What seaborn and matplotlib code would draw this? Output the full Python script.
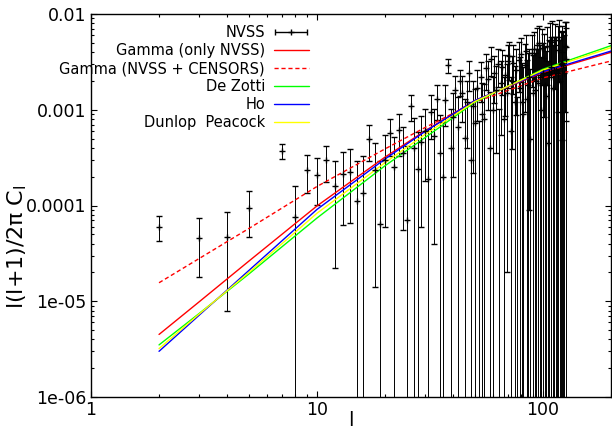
import numpy as np
import matplotlib
matplotlib.use('Agg')
import matplotlib.pyplot as plt
import pandas as pd
import seaborn as sns
from matplotlib.ticker import FixedLocator, FixedFormatter, NullFormatter, LogLocator
from matplotlib.legend_handler import HandlerErrorbar
from matplotlib.lines import Line2D

# NVSS band powers l(l+1)/2pi C_l  (l = 6 not shown: negative)
ell = [2, 3, 4, 5, 7, 8, 9, 10, 11, 12, 13, 14, 15, 16, 17, 18, 19, 20,
       21, 22, 23, 24, 25, 26, 27, 28, 29, 30, 31, 32, 33, 34, 35, 36, 37, 38,
       39, 40, 41, 42, 43, 44, 45, 46, 47, 48, 49, 50, 51, 52, 53, 54, 55, 56,
       57, 58, 59, 60, 61, 62, 63, 64, 65, 66, 67, 68, 69, 70, 71, 72, 73, 74,
       75, 76, 77, 78, 79, 80, 81, 82, 83, 84, 85, 86, 87, 88, 89, 90, 91, 92,
       93, 94, 95, 96, 97, 98, 99, 100, 101, 102, 103, 104, 105, 106, 107, 108,
       109, 110, 111, 112, 113, 114, 115, 116, 117, 118, 119, 120, 121, 122,
       123, 124, 125, 126, 127]
cl = [6.0e-5, 4.6e-5, 4.7e-5, 9.5e-5, 3.7e-4, 7.6e-5, 2.34e-4, 2.09e-4,
      2.98e-4, 1.58e-4, 2.12e-4, 2.26e-4, 1.11e-4, 1.36e-4, 4.9e-4, 2.34e-4,
      6.4e-5, 3.0e-4, 5.7e-4, 2.5e-4, 6.2e-4, 3.56e-4, 7.0e-5, 1.1e-3, 4.0e-4,
      2.4e-4, 4.6e-4, 6.0e-4, 1.9e-4, 9.5e-4, 5.3e-4, 1.3e-3, 3.5e-4, 2.0e-4,
      1.25e-3, 2.9e-3, 4.0e-4, 8.5e-4, 1.6e-3, 6.6e-4, 2.0e-3, 1.5e-3, 5.1e-4,
      1.2e-3, 2.4e-3, 3.0e-4, 1.1e-3, 7.2e-4, 1.7e-3, -2.0e-4, 2.2e-3, 9.0e-4,
      8.0e-4, 2.7e-3, 2.1e-3, 4.0e-4, 3.4e-3, 1.0e-3, 2.4e-3, 1.6e-3, 3.0e-3,
      -3.0e-4, 1.9e-3, 2.8e-3, 8.0e-4, 2.3e-3, 1.5e-3, 3.2e-3, 3.6e-3, 6.0e-4,
      2.0e-3, 3.1e-3, 1.2e-3, 2.6e-3, -4.0e-4, 3.3e-3, 1.7e-3, 3.8e-3, 1.2e-3,
      9.0e-4, 2.9e-3, 4.1e-3, 1.3e-3, 1.8e-3, 2.2e-3, 5.0e-4, 3.9e-3, 1.5e-3,
      4.3e-3, 1.6e-3, 2.0e-3, 4.7e-3, 1.9e-3, 5.0e-3, 2.2e-3, 1.0e-3, 4.4e-3,
      2.4e-3, 3.5e-3, 1.8e-3, 1.4e-3, 4.6e-3, 4.5e-4, 2.5e-3, 5.2e-3, 2.2e-3,
      2.8e-3, 5.4e-3, 1.7e-3, 2.6e-3, 4.8e-3, 2.6e-3, -3.0e-4, 4.2e-3, 2.4e-3,
      5.3e-3, 2.0e-3, 3.0e-3, 3.1e-3, 4.0e-3, 2.9e-3, 2.4e-3, 4.6e-3, 3.4e-3,
      4.5e-3]
cl_err = [1.7e-5, 2.8e-5, 3.9e-5, 4.8e-5, 6.5e-5, 8.5e-5, 1.0e-4, 1.07e-4,
          1.2e-4, 1.36e-4, 1.5e-4, 1.6e-4, 1.8e-4, 1.9e-4, 2.0e-4, 2.2e-4,
          2.3e-4, 2.4e-4, 2.4e-4, 2.7e-4, 2.9e-4, 3.0e-4, 3.5e-4, 3.4e-4,
          4.2e-4, 3.4e-4, 4.0e-4, 4.2e-4, 4.4e-4, 4.6e-4, 4.9e-4, 5.1e-4,
          5.3e-4, 5.5e-4, 5.8e-4, 5.0e-4, 6.2e-4, 6.5e-4, 6.7e-4, 7.0e-4,
          6.0e-4, 7.5e-4, 7.7e-4, 8.0e-4, 8.3e-4, 8.5e-4, 8.8e-4, 9.1e-4,
          9.3e-4, 9.6e-4, 9.9e-4, 1.02e-3, 1.05e-3, 1.08e-3, 1.10e-3, 1.13e-3,
          1.16e-3, 1.19e-3, 1.22e-3, 1.25e-3, 1.29e-3, 1.32e-3, 1.35e-3,
          1.38e-3, 1.41e-3, 1.44e-3, 1.48e-3, 1.51e-3, 1.54e-3, 1.58e-3,
          1.61e-3, 1.64e-3, 1.68e-3, 1.71e-3, 1.75e-3, 1.78e-3, 1.82e-3,
          1.85e-3, 1.89e-3, 1.92e-3, 1.96e-3, 2.0e-3, 2.03e-3, 2.07e-3,
          2.11e-3, 2.14e-3, 2.18e-3, 2.22e-3, 2.26e-3, 2.30e-3, 2.34e-3,
          2.37e-3, 2.41e-3, 2.45e-3, 2.49e-3, 2.53e-3, 2.57e-3, 2.61e-3,
          2.65e-3, 2.69e-3, 2.73e-3, 2.77e-3, 2.81e-3, 2.85e-3, 2.89e-3,
          2.93e-3, 2.97e-3, 3.01e-3, 3.05e-3, 3.10e-3, 3.14e-3, 3.18e-3,
          3.22e-3, 3.26e-3, 3.31e-3, 3.35e-3, 3.39e-3, 3.43e-3, 3.48e-3,
          3.52e-3, 3.56e-3, 3.61e-3, 3.65e-3, 3.69e-3, 3.74e-3]

# model predictions
ell_model = [2, 3, 5, 10, 20, 30, 50, 100, 200]
gamma_nvss = [4.5e-6, 9.8e-6, 2.63e-5, 9.9e-5, 3.2e-4, 6.0e-4, 1.25e-3, 2.45e-3, 3.98e-3]
gamma_censors = [1.56e-5, 2.78e-5, 5.76e-5, 1.58e-4, 3.9e-4, 6.5e-4, 1.2e-3, 2.15e-3, 3.23e-3]
de_zotti = [3.5e-6, 7.4e-6, 1.93e-5, 7.4e-5, 2.6e-4, 5.1e-4, 1.2e-3, 2.65e-3, 4.67e-3]
ho = [3.0e-6, 7.1e-6, 2.1e-5, 9.1e-5, 3.06e-4, 5.9e-4, 1.25e-3, 2.5e-3, 4.1e-3]
dunlop = [3.2e-6, 7.3e-6, 2.0e-5, 8.3e-5, 2.8e-4, 5.5e-4, 1.22e-3, 2.6e-3, 4.45e-3]

names = ['Gamma (only NVSS)', 'Gamma (NVSS + CENSORS)', 'De Zotti', 'Ho', 'Dunlop  Peacock']
curves = [gamma_nvss, gamma_censors, de_zotti, ho, dunlop]
colors = ['#ff0000', '#ff0000', '#00ff00', '#0000ff', '#ffff00']

df = pd.concat([pd.DataFrame({'l': ell_model, 'val': c, 'model': n})
                for n, c in zip(names, curves)])

sns.set_style('ticks')
plt.rcParams['font.family'] = ['DejaVu Sans']
plt.rcParams['text.color'] = 'black'
plt.rcParams['xtick.color'] = 'black'
plt.rcParams['ytick.color'] = 'black'

fig = plt.figure(figsize=(6.12, 4.34), dpi=100)
ax = fig.add_axes([91/612, 1-397/434, 520/612, 383/434])
ax.set_xscale('log')
ax.set_yscale('log')

ax.errorbar(ell, cl, yerr=cl_err, fmt='+', color='black', ms=5, mew=1,
            elinewidth=0.7, capsize=2.5, capthick=0.8)
# legend proxy drawn gnuplot-style (horizontal bar)
proxy = ax.errorbar([np.nan], [np.nan], xerr=[1], fmt='+', color='black', ms=5,
                    mew=1, elinewidth=1, capsize=2.5, capthick=1)

sns.lineplot(data=df, x='l', y='val', hue='model', style='model',
             palette=dict(zip(names, colors)),
             dashes={names[0]: '', names[1]: (3, 2), names[2]: '', names[3]: '', names[4]: ''},
             lw=1, legend=False, ax=ax, sort=False)

ax.set_xlim(1, 200)
ax.set_ylim(1e-6, 0.01)
ax.xaxis.set_major_locator(FixedLocator([1, 10, 100]))
ax.xaxis.set_major_formatter(FixedFormatter(['1', '10', '100']))
ax.yaxis.set_major_locator(FixedLocator([1e-6, 1e-5, 1e-4, 1e-3, 1e-2]))
ax.yaxis.set_major_formatter(FixedFormatter(['1e-06', '1e-05', '0.0001', '0.001', '0.01']))
ax.xaxis.set_minor_locator(LogLocator(base=10, subs=np.arange(2, 10)))
ax.yaxis.set_minor_locator(LogLocator(base=10, subs=np.arange(2, 10)))
ax.xaxis.set_minor_formatter(NullFormatter())
ax.yaxis.set_minor_formatter(NullFormatter())
ax.tick_params(which='both', top=True, right=True, direction='in', color='black',
               labelcolor='black', width=0.8)
ax.tick_params(which='major', length=4, labelsize=12.5, pad=3)
ax.tick_params(which='minor', length=2.2)
for s in ax.spines.values():
    s.set_color('black')
    s.set_linewidth(1)

ax.set_xlabel('')
ax.set_ylabel('')
fig.text(351/612, 1-421/434, 'l', ha='center', va='center', fontsize=14, color='black')
fig.text(17/612, 1-247/434, r'l(l+1)/2π C$_\mathregular{l}$', rotation=90,
         ha='center', va='center', fontsize=16, color='black')

handles = [proxy] + [Line2D([], [], color=c, lw=1, ls=('--' if i == 1 else '-'),
                            dashes=((3, 2) if i == 1 else (None, None)))
                     for i, c in enumerate(colors)]
leg = ax.legend(handles, ['NVSS'] + names, loc='upper right',
                bbox_to_anchor=(316/612, 1-18/434), bbox_transform=fig.transFigure,
                frameon=False, markerfirst=False, fontsize=10.5, handlelength=2.4,
                labelspacing=0.2, handletextpad=0.6, borderpad=0, labelcolor='black',
                handler_map={type(proxy): HandlerErrorbar(xerr_size=1.1)})

fig.savefig('out.png', dpi=100)
